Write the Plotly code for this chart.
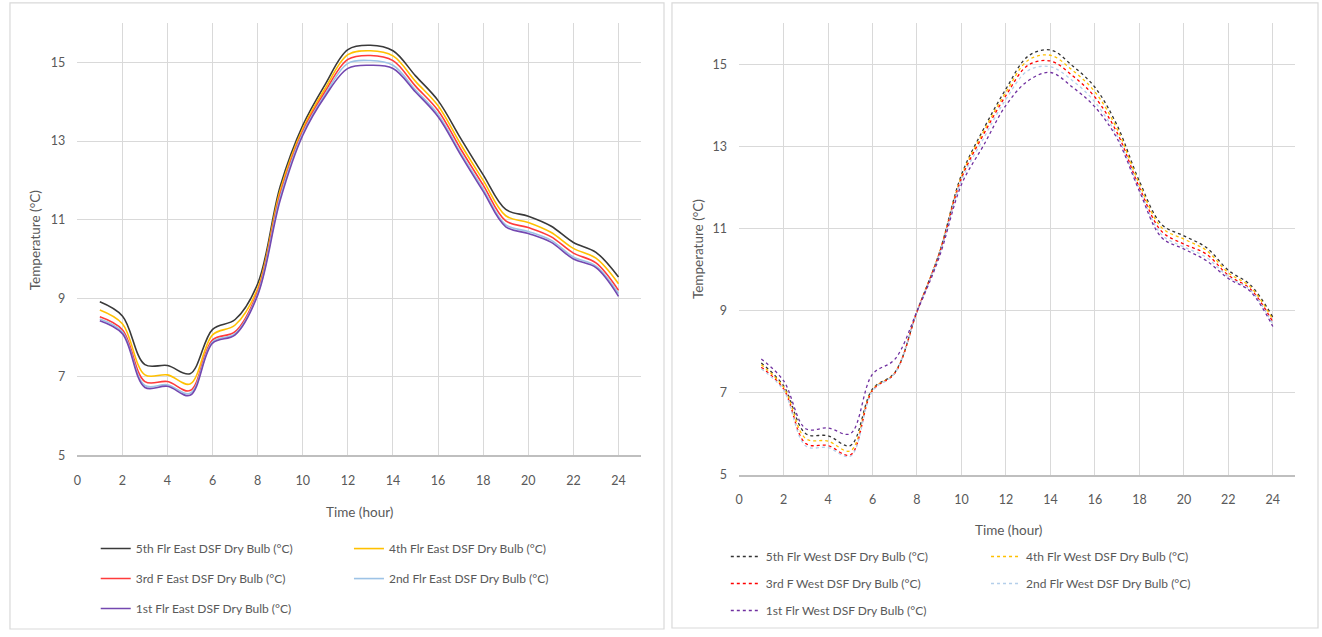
import plotly.graph_objects as go

W, H = 1322, 637

hours = list(range(1, 25))

# East DSF (left chart), °C
east_5th = [8.91, 8.55, 7.31, 7.29, 7.08, 8.21, 8.46, 9.37, 11.85, 13.4, 14.45, 15.33, 15.44, 15.3, 14.66, 14.03, 13.07, 12.14, 11.26, 11.09, 10.84, 10.42, 10.17, 9.54]
east_4th = [8.70, 8.35, 7.05, 7.05, 6.82, 8.07, 8.32, 9.25, 11.75, 13.32, 14.35, 15.2, 15.3, 15.17, 14.52, 13.9, 12.92, 12.0, 11.1, 10.93, 10.68, 10.27, 10.02, 9.37]
east_3rd = [8.53, 8.2, 6.88, 6.88, 6.65, 7.94, 8.15, 9.17, 11.65, 13.25, 14.27, 15.08, 15.18, 15.05, 14.4, 13.78, 12.8, 11.88, 10.97, 10.8, 10.57, 10.15, 9.9, 9.2]
east_2nd = [8.47, 8.14, 6.78, 6.8, 6.58, 7.89, 8.1, 9.12, 11.58, 13.2, 14.2, 14.98, 15.05, 14.93, 14.3, 13.68, 12.7, 11.78, 10.87, 10.7, 10.48, 10.05, 9.82, 9.12]
east_1st = [8.43, 8.1, 6.73, 6.76, 6.53, 7.86, 8.07, 9.08, 11.5, 13.15, 14.15, 14.85, 14.93, 14.85, 14.25, 13.62, 12.65, 11.72, 10.82, 10.65, 10.43, 10.0, 9.78, 9.05]

# West DSF (right chart), °C
west_5th = [7.72, 7.17, 6.0, 5.95, 5.71, 7.09, 7.49, 8.98, 10.4, 12.31, 13.43, 14.4, 15.2, 15.35, 14.96, 14.44, 13.51, 12.15, 11.1, 10.82, 10.54, 9.98, 9.62, 8.84]
west_4th = [7.68, 7.13, 5.88, 5.82, 5.58, 7.07, 7.48, 8.98, 10.4, 12.27, 13.37, 14.32, 15.1, 15.22, 14.85, 14.33, 13.42, 12.08, 11.02, 10.74, 10.47, 9.92, 9.57, 8.78]
west_3rd = [7.62, 7.09, 5.76, 5.71, 5.48, 7.05, 7.47, 8.97, 10.38, 12.22, 13.3, 14.24, 14.98, 15.08, 14.72, 14.2, 13.33, 12.0, 10.93, 10.62, 10.38, 9.86, 9.52, 8.72]
west_2nd = [7.58, 7.06, 5.7, 5.66, 5.45, 7.04, 7.47, 8.97, 10.36, 12.17, 13.2, 14.15, 14.85, 14.94, 14.6, 14.08, 13.25, 11.95, 10.85, 10.55, 10.3, 9.82, 9.49, 8.66]
west_1st = [7.82, 7.29, 6.12, 6.14, 6.0, 7.45, 7.81, 8.98, 10.3, 12.07, 13.03, 14.0, 14.6, 14.8, 14.44, 13.96, 13.19, 11.91, 10.78, 10.5, 10.22, 9.78, 9.46, 8.61]

east_names = ["5th Flr East DSF Dry Bulb (°C)", "4th Flr East DSF Dry Bulb (°C)",
              "3rd F East DSF Dry Bulb (°C)", "2nd Flr East DSF Dry Bulb (°C)",
              "1st Flr East DSF Dry Bulb (°C)"]
west_names = ["5th Flr West DSF Dry Bulb (°C)", "4th Flr West DSF Dry Bulb (°C)",
              "3rd F West DSF Dry Bulb (°C)", "2nd Flr West DSF Dry Bulb (°C)",
              "1st Flr West DSF Dry Bulb (°C)"]

x_ticks = list(range(0, 25, 2))
y_ticks = [5, 7, 9, 11, 13, 15]

east_colors = ["#3a3a3a", "#FFC000", "#FF3B3B", "#9DC3E6", "#7448B0"]
west_colors = ["#333333", "#FFC000", "#FF0000", "#B4CFEA", "#7030A0"]

FONT = "Lato, Liberation Sans, sans-serif"
GRAY = "#595959"

fig = go.Figure()

east_series = [east_5th, east_4th, east_3rd, east_2nd, east_1st]
west_series = [west_5th, west_4th, west_3rd, west_2nd, west_1st]
east_leg = ["legend", "legend2", "legend", "legend2", "legend"]
west_leg = ["legend3", "legend4", "legend3", "legend4", "legend3"]

for i, (vals, name) in enumerate(zip(east_series, east_names)):
    fig.add_trace(go.Scatter(x=hours, y=vals, name=name, mode="lines",
                             line=dict(color=east_colors[i], width=1.6, shape="spline", smoothing=1.0),
                             xaxis="x", yaxis="y", legend=east_leg[i], legendgroup="e%d" % i))
for i, (vals, name) in enumerate(zip(west_series, west_names)):
    fig.add_trace(go.Scatter(x=hours, y=vals, name=name, mode="lines",
                             line=dict(color=west_colors[i], width=1.3, shape="spline", smoothing=1.0, dash="dot"),
                             xaxis="x2", yaxis="y2", legend=west_leg[i], legendgroup="w%d" % i))


def px_x(p):
    return p / W


def px_y(p):
    return 1 - p / H


axis_common = dict(showgrid=True, gridcolor="#d9d9d9", gridwidth=1, zeroline=False,
                   tickfont=dict(family=FONT, size=12.5, color=GRAY), ticks="",
                   fixedrange=True)

fig.update_layout(
    width=W, height=H,
    margin=dict(l=0, r=0, t=0, b=0),
    paper_bgcolor="white", plot_bgcolor="white",
    font=dict(family=FONT, color=GRAY, size=12.5),
    xaxis=dict(domain=[px_x(73.5), px_x(639)], range=[0, 25], tickvals=x_ticks,
               showline=True, linecolor="#bfbfbf", linewidth=1.5, anchor="y",
               ticklabelstandoff=13, **axis_common),
    yaxis=dict(domain=[px_y(460.5), px_y(23.5)], range=[5, 16], tickvals=y_ticks,
               showline=False, anchor="x", ticklabelstandoff=11, **axis_common),
    xaxis2=dict(domain=[px_x(737.3), px_x(1295)], range=[0, 25], tickvals=x_ticks,
                showline=True, linecolor="#bfbfbf", linewidth=1.5, anchor="y2",
                ticklabelstandoff=13, **axis_common),
    yaxis2=dict(domain=[px_y(480), px_y(23.5)], range=[5, 16], tickvals=y_ticks,
                showline=False, anchor="x2", ticklabelstandoff=11, **axis_common),
)

leg_common = dict(orientation="v", xanchor="left", yanchor="top", bgcolor="rgba(0,0,0,0)",
                  font=dict(family=FONT, size=12, color=GRAY), traceorder="grouped",
                  itemwidth=30)
fig.update_layout(
    legend=dict(x=px_x(92), y=px_y(540), tracegroupgap=11, **leg_common),
    legend2=dict(x=px_x(346), y=px_y(540), tracegroupgap=11, **leg_common),
    legend3=dict(x=px_x(724), y=px_y(548), tracegroupgap=8, **leg_common),
    legend4=dict(x=px_x(985), y=px_y(548), tracegroupgap=8, **leg_common),
)

# panel frames
fig.add_shape(type="rect", xref="paper", yref="paper", x0=px_x(6), x1=px_x(662),
              y0=px_y(636), y1=px_y(3), line=dict(color="#d9d9d9", width=1.2), layer="below")
fig.add_shape(type="rect", xref="paper", yref="paper", x0=px_x(670), x1=px_x(1318),
              y0=px_y(635), y1=px_y(3), line=dict(color="#d9d9d9", width=1.2), layer="below")

# axis titles
title_font = dict(family=FONT, size=13.5, color=GRAY)
fig.add_annotation(text="Temperature (°C)", xref="paper", yref="paper", x=px_x(31), y=px_y(243),
                   textangle=-90, showarrow=False, font=title_font, xanchor="center", yanchor="middle")
fig.add_annotation(text="Time (hour)", xref="paper", yref="paper", x=px_x(357), y=px_y(518),
                   showarrow=False, font=title_font, xanchor="center", yanchor="middle")
fig.add_annotation(text="Temperature (°C)", xref="paper", yref="paper", x=px_x(696), y=px_y(252),
                   textangle=-90, showarrow=False, font=title_font, xanchor="center", yanchor="middle")
fig.add_annotation(text="Time (hour)", xref="paper", yref="paper", x=px_x(1008), y=px_y(536),
                   showarrow=False, font=title_font, xanchor="center", yanchor="middle")

fig.write_html("out.html", config={"displayModeBar": False},
               post_script="document.body.style.margin='0';document.body.style.overflow='hidden';")
